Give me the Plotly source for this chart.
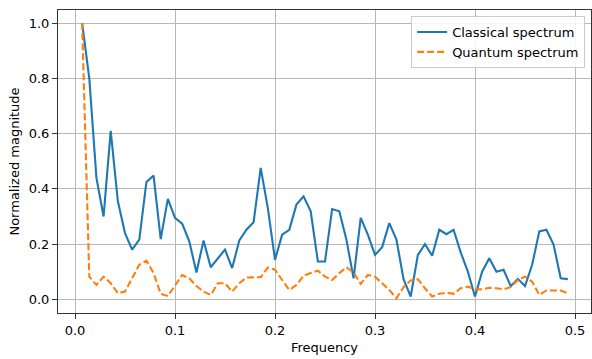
import plotly.graph_objects as go

freq = [k / 140 for k in range(1, 70)]

classical = [1.0, 0.80, 0.44, 0.30, 0.61, 0.355, 0.24, 0.18, 0.216, 0.425,
             0.448, 0.218, 0.364, 0.295, 0.274, 0.21, 0.097, 0.213, 0.116, 0.149,
             0.18, 0.113, 0.213, 0.252, 0.279, 0.476, 0.33, 0.143, 0.234, 0.252,
             0.343, 0.373, 0.319, 0.137, 0.137, 0.327, 0.319, 0.216, 0.076, 0.295,
             0.234, 0.161, 0.189, 0.276, 0.216, 0.073, 0.01, 0.161, 0.2, 0.158,
             0.252, 0.236, 0.252, 0.17, 0.1, 0.01, 0.1, 0.149, 0.1, 0.107,
             0.048, 0.074, 0.048, 0.125, 0.246, 0.252, 0.198, 0.076, 0.073]

quantum = [1.0, 0.082, 0.052, 0.082, 0.058, 0.022, 0.028, 0.076, 0.125, 0.14,
           0.095, 0.02, 0.012, 0.05, 0.088, 0.076, 0.048, 0.028, 0.016, 0.058,
           0.058, 0.028, 0.058, 0.079, 0.079, 0.08, 0.115, 0.107, 0.07, 0.034,
           0.052, 0.085, 0.095, 0.104, 0.082, 0.07, 0.095, 0.116, 0.097, 0.056,
           0.088, 0.082, 0.058, 0.034, 0.004, 0.044, 0.068, 0.073, 0.04, 0.01,
           0.02, 0.024, 0.02, 0.04, 0.046, 0.036, 0.036, 0.042, 0.04, 0.036,
           0.044, 0.07, 0.082, 0.064, 0.016, 0.032, 0.032, 0.032, 0.022]

x_ticks = [0.0, 0.1, 0.2, 0.3, 0.4, 0.5]
y_ticks = [0.0, 0.2, 0.4, 0.6, 0.8, 1.0]

FONT = "DejaVu Sans"

fig = go.Figure()
fig.add_trace(go.Scatter(x=freq, y=classical, mode="lines", name="Classical spectrum",
                         line=dict(color="#1f77b4", width=2.1)))
fig.add_trace(go.Scatter(x=freq, y=quantum, mode="lines", name="Quantum spectrum",
                         line=dict(color="#ff7f0e", width=2.1, dash="7px,3px")))

axis_common = dict(showline=True, mirror=True, linecolor="#333333", linewidth=1.1,
                   ticks="outside", ticklen=5, tickwidth=1, tickcolor="#333333",
                   showgrid=True, gridcolor="#b8b8b8", gridwidth=1, zeroline=False,
                   tickfont=dict(family=FONT, size=13, color="#000"))

fig.update_xaxes(range=[-0.017, 0.516], tickvals=x_ticks,
                 ticktext=[f"{v:.1f}" for v in x_ticks],
                 title=dict(text="Frequency", font=dict(family=FONT, size=13, color="#000"), standoff=6),
                 **axis_common)
fig.update_yaxes(range=[-0.0496, 1.048], tickvals=y_ticks,
                 ticktext=[f"{v:.1f}" for v in y_ticks],
                 title=dict(text="Normalized magnitude", font=dict(family=FONT, size=13, color="#000"), standoff=6),
                 **axis_common)

fig.update_layout(
    width=592, height=359,
    margin=dict(l=58, r=1, t=10, b=46),
    paper_bgcolor="white", plot_bgcolor="white",
    font=dict(family=FONT, size=13, color="#000"),
    showlegend=True,
    legend=dict(x=0.989, y=0.98, xanchor="right", yanchor="top",
                bgcolor="rgba(255,255,255,0.85)", bordercolor="#cccccc", borderwidth=1,
                font=dict(family=FONT, size=13, color="#000"),
                itemwidth=30, tracegroupgap=0),
)

fig.write_html("out.html")
